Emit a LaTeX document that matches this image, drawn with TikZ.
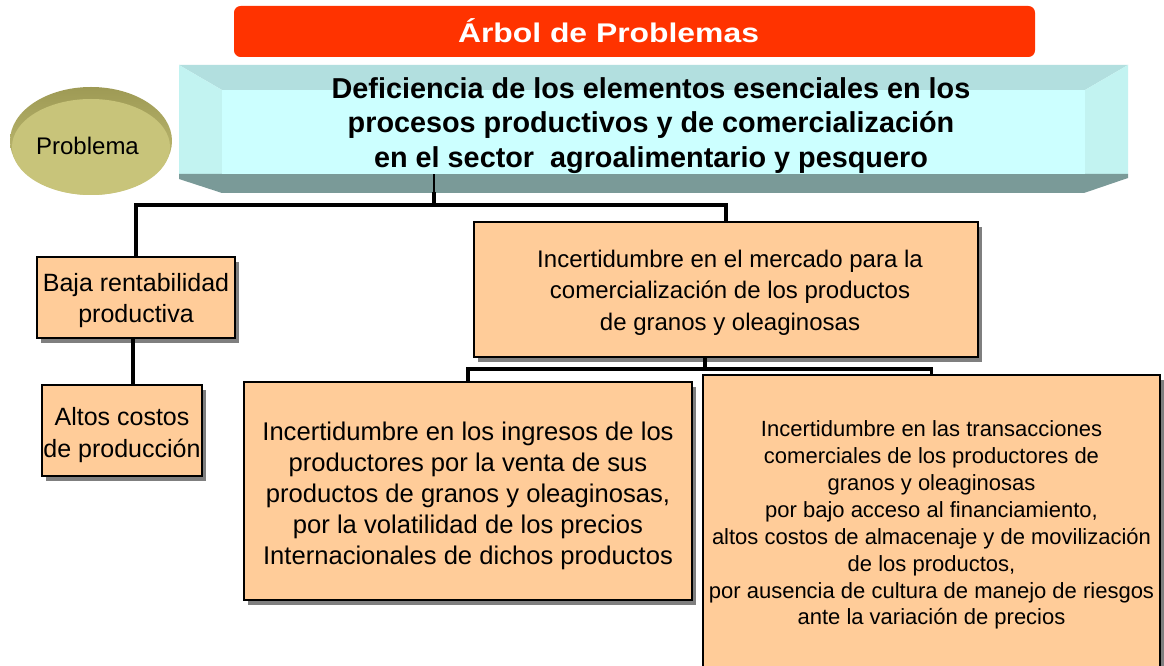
\documentclass[tikz,border=0pt]{standalone}
\usepackage{fontspec}
\setmainfont{Liberation Sans}
\newfontfamily\titlefont[FakeStretch=1.18]{Liberation Sans}
\usetikzlibrary{shadows}
\definecolor{titlered}{HTML}{FF3300}
\definecolor{boxfill}{HTML}{FFCC99}
\definecolor{shadowgray}{HTML}{7F7F7F}
\definecolor{cyanfront}{HTML}{CCFFFF}
\definecolor{cyantop}{HTML}{B2DFDF}
\definecolor{cyanside}{HTML}{C2F3F1}
\definecolor{cyanbottom}{HTML}{7A9A98}
\definecolor{olivemain}{HTML}{C8C47A}
\definecolor{olivedark}{HTML}{9E9A55}
\begin{document}
\begin{tikzpicture}[x=0.75pt,y=-0.75pt,
  box/.style={draw=black, line width=1.1pt, fill=boxfill, inner sep=0pt,
    general shadow={fill=shadowgray, shadow xshift=3.2pt, shadow yshift=-3.4pt}},
  boxtext/.style={align=center, inner sep=0pt},
  conn/.style={draw=black, line width=2.3pt, line join=miter},
  thinconn/.style={draw=black, line width=0.8pt}]
\useasboundingbox (0,0) rectangle (1164,666);
\clip (0,0) rectangle (1164,666);
\fill[white] (0,0) rectangle (1164,666);

% title bar
\node[fill=titlered, rounded corners=5pt, minimum width=600.75pt, minimum height=38.25pt, inner sep=0pt] (titlebar) at (634.5,31.5) {};
\node[anchor=base, text=white, font=\titlefont\bfseries\fontsize{20.25}{24}\selectfont, inner sep=0pt] (titletext) at (608.5,43) {Árbol de Problemas};

% Problema disc
\shade[top color=olivedark, bottom color=olivemain] (91,141) ellipse [x radius=81, y radius=54];
\fill[olivemain] (91,147) ellipse [x radius=79, y radius=48];
\node[anchor=base, font=\fontsize{18}{22}\selectfont, inner sep=0pt] (problema) at (87.5,155) {Problema};

% bevelled cyan box
\fill[cyantop] (179,65) -- (1128,65) -- (1085,90) -- (222,90) -- cycle;
\fill[cyanside] (179,65) -- (222,90) -- (222,174) -- (179,174) -- cycle;
\fill[cyanside] (1128,65) -- (1085,90) -- (1085,174) -- (1128,174) -- cycle;
\fill[cyanbottom] (179,174) -- (1128,174) -- (1128,178) -- (1084,193) -- (222,193) -- (179,179) -- cycle;
\node[fill=cyanfront, minimum width=647.25pt, minimum height=63pt, inner sep=0pt] (core) at (653.5,132) {};
\node[font=\bfseries\fontsize{21.6}{26}\selectfont, boxtext] (coretext) at (651,125.5)
  {Deficiencia de los elementos esenciales en los\\procesos productivos y de comercialización\\en el sector\ \ agroalimentario y pesquero};

% boxes
\node[box, minimum width=148.5pt, minimum height=60.75pt] (baja) at (136,297.5) {};
\node[boxtext, font=\fontsize{18.75}{23.5}\selectfont] (bajatext) at (136,300.5) {Baja rentabilidad\\productiva};
\node[box, minimum width=120pt, minimum height=68.25pt] (altos) at (122,430.5) {};
\node[boxtext, font=\fontsize{18.75}{23.5}\selectfont] (altostext) at (122,435) {Altos costos\\de producción};
\node[box, minimum width=378pt, minimum height=101.25pt] (mercado) at (726,289.5) {};
\node[boxtext, font=\fontsize{18}{23.6}\selectfont] (mercadotext) at (730,292.5)
  {Incertidumbre en el mercado para la\\comercialización de los productos\\de granos y oleaginosas};
\node[box, minimum width=336pt, minimum height=163.5pt] (ingresos) at (468,491) {};
\node[boxtext, font=\fontsize{19.2}{23.2}\selectfont] (ingresostext) at (468,496)
  {Incertidumbre en los ingresos de los\\productores por la venta de sus\\productos de granos y oleaginosas,\\por la volatilidad de los precios\\Internacionales de dichos productos};
\node[box, minimum width=342.75pt, minimum height=225pt] (trans) at (931.5,525) {};
\node[boxtext, font=\fontsize{16.5}{20.2}\selectfont] (transtext) at (931.5,525)
  {Incertidumbre en las transacciones\\comerciales de los productores de\\granos y oleaginosas\\por bajo acceso al financiamiento,\\altos costos de almacenaje y de movilización\\de los productos,\\por ausencia de cultura de manejo de riesgos\\ante la variación de precios};

% connectors
\coordinate (hub) at (434,205);
\coordinate (bandbot) at (434,192);
\draw[thinconn] (core.south -| hub) -- (bandbot);
\draw[conn] (bandbot) -- (hub);
\draw[conn] (baja.north) |- (mercado.north |- hub) -- (mercado.north);
\draw[conn] ([xshift=-2.25pt]baja.south) -- ([xshift=-2.25pt]baja.south |- altos.north);
\coordinate (mhub) at (705,369);
\draw[conn] (mercado.south -| mhub) -- (mhub);
\draw[conn] (ingresos.north) |- (trans.north |- mhub) -- (trans.north);
\end{tikzpicture}
\end{document}
